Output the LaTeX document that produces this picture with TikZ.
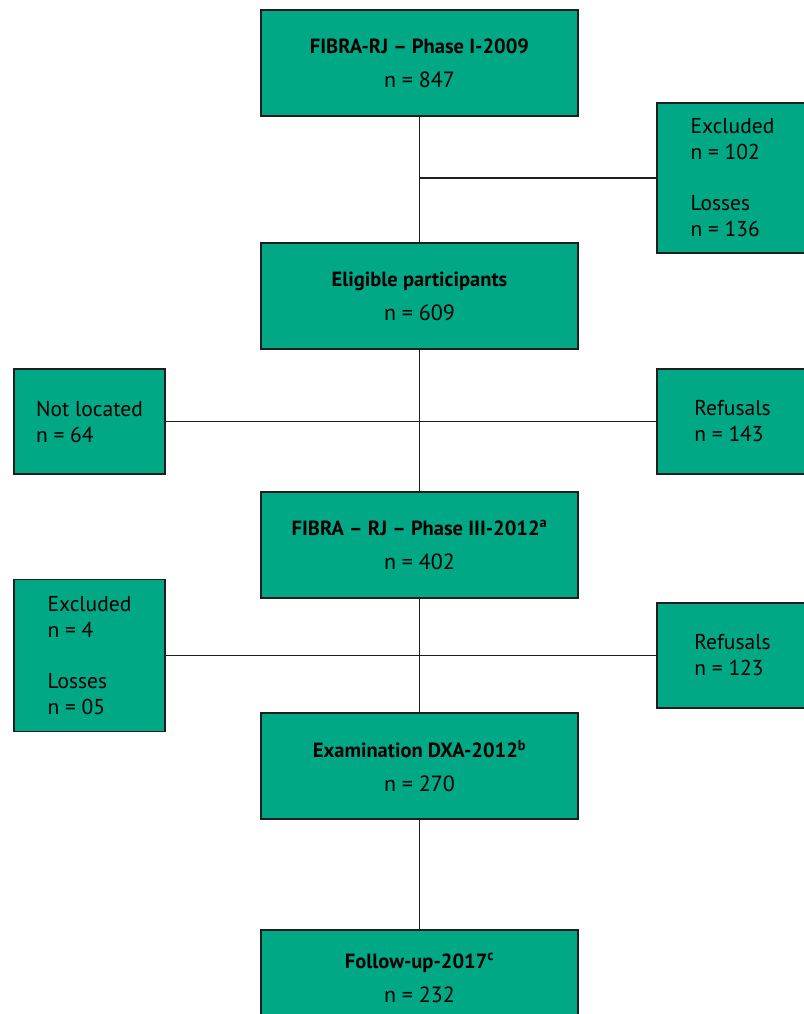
\documentclass[tikz,border=0pt]{standalone}
\usepackage{fontspec}
\setmainfont{PT Sans}
\usetikzlibrary{positioning}
\definecolor{FlowGreen}{HTML}{00A886}
\definecolor{FlowLine}{HTML}{1E1E1E}
\newcommand{\flowtitle}[1]{{\fontsize{20.5}{34}\selectfont\bfseries #1}}

\begin{document}
\begin{tikzpicture}[x=1pt,y=-1pt]
    \tikzset{main/.style={draw=FlowLine,fill=FlowGreen,line width=1.2pt,outer sep=0pt,
      minimum width=317pt,minimum height=106pt,align=center,font=\fontsize{22}{34}\selectfont},
      side/.style={draw=FlowLine,fill=FlowGreen,line width=1.2pt,outer sep=0pt,
      minimum width=151pt,minimum height=105pt,align=left,font=\fontsize{21.5}{26}\selectfont},
      link/.style={draw=FlowLine,line width=1.2pt}}
    \useasboundingbox (0,0) rectangle (803,1014);
    % main column
    \node[main] (a) at (419.5,63) {\flowtitle{FIBRA-RJ -- Phase I-2009}\\n = 847};
    \node[main,below=127pt of a] (b) {\flowtitle{Eligible participants}\\n = 609};
    \node[main,below=143pt of b] (c) {\flowtitle{FIBRA -- RJ -- Phase III-2012\textsuperscript{a}}\\n = 402};
    \node[main,below=115pt of c] (d) {\flowtitle{Examination DXA-2012\textsuperscript{b}}\\n = 270};
    \node[main,below=111pt of d,minimum height=96pt] (e) {\flowtitle{Follow-up-2017\textsuperscript{c}}\\n = 232};
    % side boxes
    \node[side,minimum height=150pt] (exa) at (732.5,178) {Excluded\\n = 102\\[25pt]Losses\\n = 136};
    \node[side] (nloc) at (89.5,421.5) {Not located\\n = 64};
    \node[side] (refa) at (732.5,421.5) {Refusals\\n = 143};
    \node[side,minimum height=152pt] (exb) at (89.5,655.5) {Excluded\\n = 4\\[25pt]Losses\\n = 05};
    \node[side] (refb) at (732.5,655.5) {Refusals\\n = 123};
    % connectors
    \draw[link] (a) -- (b);
    \draw[link] (b) -- (c);
    \draw[link] (c) -- (d);
    \draw[link] (d) -- (e);
    \draw[link] (a.south |- exa.west) -- (exa.west);
    \draw[link] (nloc) -- (refa);
    \draw[link] (exb) -- (refb);
  \end{tikzpicture}
\end{document}
